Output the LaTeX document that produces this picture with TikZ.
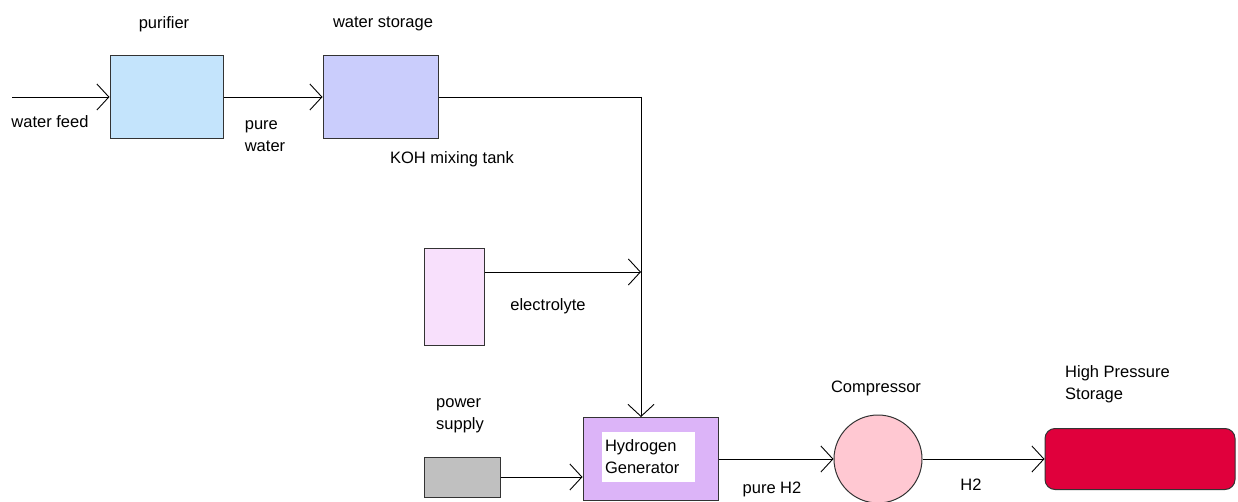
\documentclass[tikz,border=0pt]{standalone}
\usepackage{fontspec}
\setmainfont{Liberation Sans}
\usepackage{xcolor}
\usepackage{tikz}
\usetikzlibrary{positioning,arrows.meta,calc}
\definecolor{PurifierBg}{HTML}{C4E4FC}
\definecolor{StorageBg}{HTML}{CACDFC}
\definecolor{KohBg}{HTML}{F8E0FC}
\definecolor{PowerBg}{HTML}{C0C0C0}
\definecolor{GenBg}{HTML}{DCB4F8}
\definecolor{CompBg}{HTML}{FFC8D2}
\definecolor{TankRed}{HTML}{E0003C}
\tikzset{
  unitbox/.style={draw=black!80, line width=1pt, inner sep=0pt},
  flow/.style={line width=0.9pt, -{Straight Barb[length=12pt,width=26pt,line width=0.9pt]}},
  pipe/.style={line width=0.9pt},
  lbl/.style={font=\fontsize{16.5}{22}\selectfont, inner sep=0pt, align=left}
}

\begin{document}
\begin{tikzpicture}[x=1pt,y=-1pt]
  \useasboundingbox (0,0) rectangle (1238,502);
  % process units
  \node[unitbox, fill=PurifierBg, minimum width=113pt, minimum height=83pt] (purifier) at (166.5,97) {};
  \node[unitbox, fill=StorageBg, minimum width=115pt, minimum height=83pt] (storage) at (380.5,97) {};
  \node[unitbox, fill=KohBg, minimum width=60pt, minimum height=96pt] (koh) at (454,297) {};
  \node[unitbox, fill=PowerBg, minimum width=76pt, minimum height=40pt] (power) at (462,477) {};
  \node[unitbox, fill=GenBg, minimum width=135pt, minimum height=83pt] (gen) at (650.5,459) {};
  \node[fill=white, minimum width=93pt, minimum height=50pt, lbl, inner sep=3pt, text width=87pt] (gentext) at (648.5,457) {Hydrogen\\Generator};
  \node[unitbox, circle, fill=CompBg, minimum size=88pt] (comp) at (878,459) {};
  \node[unitbox, fill=TankRed, rounded corners=10pt, minimum width=190pt, minimum height=61pt] (tank) at (1140,459) {};
  % junctions
  \coordinate (feed) at (12,97);
  \coordinate (corner) at (641,97);
  \coordinate (merge) at (641,272);
  % connectors
  \draw[flow] (feed) -- (purifier.west);
  \draw[flow] (purifier.east) -- (storage.west);
  \draw[pipe] (storage.east) -- (corner);
  \draw[flow] (corner) -- (corner |- gen.north);
  \draw[flow] (merge -| koh.east) -- (merge);
  \draw[flow] (power.east) -- (power.east -| gen.west);
  \draw[flow] (gen.east) -- (comp.west);
  \draw[flow] (comp.east) -- (tank.west);
  % labels
  \node[lbl] (feedlbl) at (50,122) {water feed};
  \node[lbl] (purlbl) at (164,24) {purifier};
  \node[lbl] (storlbl) at (383,24) {water storage};
  \node[lbl] (purelbl) at (265,136) {pure\\water};
  \node[lbl] (kohlbl) at (452,159) {KOH mixing tank};
  \node[lbl] (elelbl) at (548,306) {electrolyte};
  \node[lbl] (powlbl) at (460,416) {power\\supply};
  \node[lbl] (complbl) at (876,388) {Compressor};
  \node[lbl, anchor=west] (tanklbl) at (1065,384) {High Pressure\\Storage};
  \node[lbl] (h2lbl) at (772,489) {pure H2};
  \node[lbl] (h2blbl) at (971,485) {H2};
\end{tikzpicture}
\end{document}
